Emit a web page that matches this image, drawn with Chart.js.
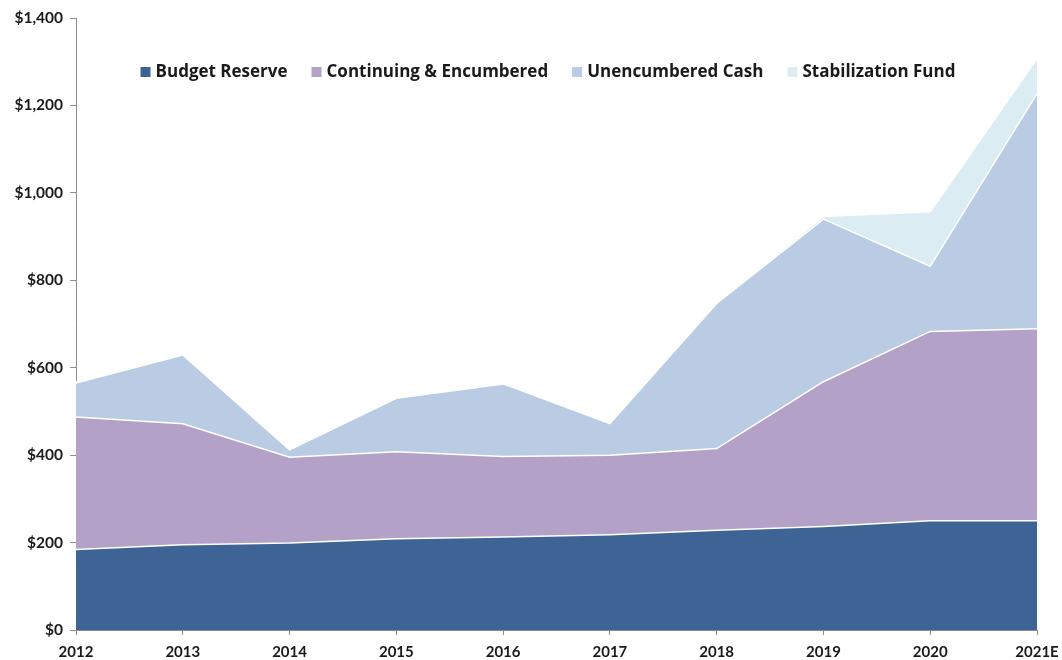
<!DOCTYPE html>
<html>
<head>
<meta charset="utf-8">
<script src="https://cdn.jsdelivr.net/npm/chart.js@4/dist/chart.umd.min.js"></script>
<style>
  html, body { margin: 0; padding: 0; background: #fff; }
  #wrap { width: 1062px; height: 660px; }
</style>
</head>
<body>
<div id="wrap"><canvas id="chart"></canvas></div>
<script>
const years = ['2012', '2013', '2014', '2015', '2016', '2017', '2018', '2019', '2020', '2021E'];

// $ millions, each layer on its own (stacked in the chart)
const budgetReserve = [184, 195, 199, 209, 213, 218, 228, 237, 250, 250];
const continuingEncumbered = [303, 277, 196, 199, 184, 182, 187, 331, 433, 439];
const unencumberedCash = [78, 157, 17, 122, 166, 72, 332, 372, 149, 538];
const stabilizationFund = [3, 3, 3, 3, 3, 3, 3, 6, 125, 80];

const yTicks = [0, 200, 400, 600, 800, 1000, 1200, 1400];

const fontName = 'Lato, "Open Sans", sans-serif';
const legendFont = 'bold 17px "Open Sans", Lato, sans-serif';
const textColor = '#1a1a1a';
const axisColor = '#8c8c8c';

function area(label, values, color, fill) {
	return {
		label: label,
		data: values,
		backgroundColor: color,
		borderColor: '#ffffff',
		borderWidth: 1.5,
		fill: fill,
		tension: 0,
		pointRadius: 0,
		pointHoverRadius: 0
	};
}

// legend sits inside the plot, one row, near the top
const insideLegend = {
	id: 'insideLegend',
	afterDraw: function(chart) {
		const c = chart.ctx;
		const area = chart.chartArea;
		const box = 10;
		const gap = 5;
		const spacing = 24;
		c.save();
		c.font = legendFont;
		c.textBaseline = 'middle';
		c.textAlign = 'left';
		const items = chart.data.datasets.map(function(ds) {
			return { text: ds.label, color: ds.backgroundColor, w: c.measureText(ds.label).width };
		});
		let total = 0;
		items.forEach(function(it, i) {
			total += box + gap + it.w + (i > 0 ? spacing : 0);
		});
		let x = 548 - total / 2;
		const y = area.top + 54;
		items.forEach(function(it) {
			c.fillStyle = it.color;
			c.fillRect(x, y - box / 2, box, box);
			c.fillStyle = textColor;
			c.fillText(it.text, x + box + gap, y);
			x += box + gap + it.w + spacing;
		});
		c.restore();
	}
};

const ctx = document.getElementById('chart').getContext('2d');

new Chart(ctx, {
	type: 'line',
	data: {
		labels: years,
		datasets: [
			area('Budget Reserve', budgetReserve, '#3e6495', 'origin'),
			area('Continuing & Encumbered', continuingEncumbered, '#b3a1c7', '-1'),
			area('Unencumbered Cash', unencumberedCash, '#b9cce4', '-1'),
			area('Stabilization Fund', stabilizationFund, '#dbecf2', '-1')
		]
	},
	plugins: [insideLegend],
	options: {
		responsive: true,
		maintainAspectRatio: false,
		animation: false,
		layout: {
			padding: { left: 0, right: 25, top: 18, bottom: 0 }
		},
		plugins: {
			tooltip: { enabled: false },
			legend: { display: false }
		},
		scales: {
			x: {
				offset: false,
				grid: {
					display: true,
					drawOnChartArea: false,
					color: axisColor,
					tickLength: 5
				},
				border: { display: true, color: axisColor, width: 1 },
				ticks: {
					autoSkip: false,
					maxRotation: 0,
					padding: 8,
					color: textColor,
					font: { family: fontName, size: 15, weight: 'bold' }
				},
				afterFit: function(scale) {
					scale.height = 30;
					scale.paddingLeft = 0;
					scale.paddingRight = 0;
				}
			},
			y: {
				stacked: true,
				min: 0,
				max: 1400,
				afterBuildTicks: function(scale) {
					scale.ticks = yTicks.map(function(v) { return { value: v }; });
				},
				grid: {
					display: true,
					drawOnChartArea: false,
					color: axisColor,
					tickLength: 6
				},
				border: { display: true, color: axisColor, width: 1 },
				ticks: {
					padding: 7,
					color: textColor,
					font: { family: fontName, size: 15.5, weight: 'bold' },
					callback: function(value) {
						return '$' + Number(value).toLocaleString('en-US');
					}
				},
				afterFit: function(scale) { scale.width = 76; }
			}
		}
	}
});
</script>
</body>
</html>
